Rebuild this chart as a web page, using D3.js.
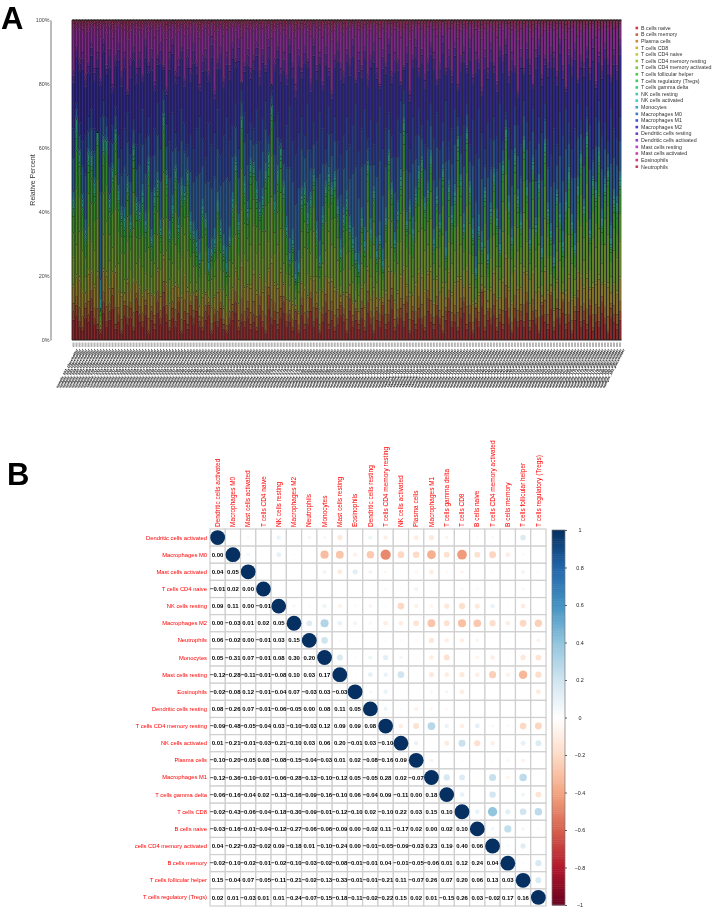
<!DOCTYPE html>
<html>
<head>
<meta charset="utf-8">
<script src="https://cdn.jsdelivr.net/npm/d3@7"></script>
<style>
  html, body { margin: 0; padding: 0; background: #fff; }
  svg { display: block; font-family: "Liberation Sans", Arial, sans-serif; }
  .soft { filter: blur(0.4px); }
</style>
</head>
<body>
<svg id="chart" width="712" height="911"></svg>
<script>
const cellTypes = ["B cells naive", "B cells memory", "Plasma cells", "T cells CD8", "T cells CD4 naive",
  "T cells CD4 memory resting", "T cells CD4 memory activated", "T cells follicular helper",
  "T cells regulatory (Tregs)", "T cells gamma delta", "NK cells resting", "NK cells activated", "Monocytes",
  "Macrophages M0", "Macrophages M1", "Macrophages M2", "Dendritic cells resting", "Dendritic cells activated",
  "Mast cells resting", "Mast cells activated", "Eosinophils", "Neutrophils"];
const cellColors = ["#CC3D3D", "#CC643D", "#CC8B3D", "#CCB23D", "#BFCC3D", "#98CC3D", "#71CC3D", "#4ACC3D",
  "#3DCC57", "#3DCC7E", "#3DCCA5", "#3DCCCC", "#3DA5CC", "#3D7ECC", "#3D57CC", "#4A3DCC", "#713DCC", "#983DCC",
  "#BF3DCC", "#CC3DB2", "#CC3D8B", "#CC3D64"];

// cumulative percent where each colour band ends, one value per sample
const redTop = [9,11,6,4,10,8,13,7,5,3, 12,6,9,14,5,8,3,11,7,10, 4,13,8,6,11,3,9,5,12,7,
  15,8,4,10,6,12,3,9,5,11, 7,13,6,4,9,11,3,8,6,10, 5,3,7,9,12,4,8,6,10,5,
  8,4,11,6,3,14,7,9,5,10, 12,6,8,4,9,3,11,5,7,13, 6,10,3,8,12,5,9,4,7,11,
  8,3,13,6,9,5,10,4,12,7, 3,9,6,11,5,8,14,4,7,10, 6,12,3,9,5,10,7,4,13,8,
  5,11,7,3,9,13,6,8,4,10, 12,5,8,3,10,6,15,4,9,7, 11,4,8,5,13,7,3,10,6,9,
  6,12,4,9,7,3,11,8,5,14, 4,10,7,12,5,8,3,9,13,6, 9,5,11,4,8,6,12,7,3,10, 8,5,9];
const oliveTop = [26,30,34,28,20,36,31,28,38,6, 33,37,25,29,41,24,27,19,31,22, 35,24,26,23,21,29,20,24,33,22,
  38,28,19,24,30,22,26,33,28,18, 23,18,16,25,21,16,19,20,26,22, 16,14,20,24,33,19,41,27,25,30,
  36,27,30,26,34,31,45,27,30,35, 24,21,17,20,13,15,26,29,21,27, 34,20,16,24,28,34,30,29,25,17,
  22,27,22,18,16,14,24,18,34,20, 30,18,21,16,26,38,29,21,24,31, 41,23,27,20,31,34,35,28,30,38,
  19,29,23,33,18,31,24,28,36,30, 22,42,27,21,13,24,20,29,16,26, 33,23,19,34,41,26,21,36,28,24,
  40,31,19,35,23,30,17,38,26,21, 16,28,25,18,26,33,24,19,31,36, 25,37,22,32,29,35,24,30,33,20, 28,26,31];
const greenTop = [43,69,58,43,33,58,57,48,65,10, 62,62,43,53,65,46,39,37,48,36, 60,42,39,45,36,55,31,45,49,34,
  70,51,33,41,53,35,47,45,52,36, 33,29,25,41,37,22,27,30,42,34, 28,22,31,43,55,36,69,48,40,55,
  54,46,40,44,52,58,73,42,52,60, 48,34,25,30,19,22,44,47,38,44, 51,33,24,38,48,51,47,50,41,27,
  38,43,35,30,25,22,37,29,55,33, 46,26,31,23,37,58,47,30,39,50, 68,36,41,33,45,52,56,42,46,57,
  30,44,36,53,27,48,38,45,63,50, 35,65,48,33,21,34,29,46,25,40, 51,37,28,55,66,42,31,58,44,36,
  62,47,30,55,35,49,27,61,40,33, 24,45,38,29,42,52,36,28,47,57, 41,64,33,50,46,58,37,48,53,30, 44,42,50];
const blueTop = [66,74,68,62,64,70,72,66,63,70, 75,70,62,67,73,64,60,66,71,58, 69,61,65,72,63,70,57,66,74,60,
  78,67,62,71,65,59,72,68,61,64, 60,66,70,63,57,68,61,65,72,58, 64,70,62,67,74,60,78,71,65,68,
  66,72,62,69,75,64,78,68,71,63, 60,67,73,62,58,65,70,64,74,60, 68,62,71,66,60,73,65,70,62,58,
  64,70,61,67,74,59,66,72,63,69, 61,68,73,60,66,71,64,57,69,75, 78,65,60,70,64,72,67,61,69,74,
  63,71,60,68,75,62,66,72,70,64, 67,74,61,69,58,72,65,60,68,63, 70,64,74,62,71,66,60,73,67,61,
  75,68,62,72,60,70,65,74,63,58, 66,61,71,64,72,68,60,66,74,69, 63,73,67,60,70,75,64,68,62,72, 66,63,70];
const indigoTop = [84,92,88,90,83,87,93,85,90,82, 94,86,91,80,89,93,84,90,78,88, 92,85,90,83,94,87,91,81,89,93,
  86,79,90,94,84,88,92,82,91,85, 93,87,80,89,91,84,95,78,88,92, 82,90,86,93,88,94,81,87,91,85,
  89,93,84,91,86,94,80,88,92,85, 90,83,94,87,80,91,85,92,88,82, 94,86,90,81,92,85,78,89,93,87,
  84,91,88,94,82,90,86,92,83,89, 93,85,80,91,87,94,84,90,88,81, 86,92,78,89,94,85,91,83,88,93,
  90,82,87,95,85,91,84,93,80,89, 92,86,94,83,90,88,79,91,85,93, 87,81,92,89,94,84,90,86,78,91,
  85,93,88,80,91,94,83,89,87,92, 90,84,94,86,79,91,88,93,82,89, 87,92,85,94,81,90,86,93,88,83, 91,86,94];
// how each band divides between its cell types, estimated
const bandShares = [[0.7, 0.3], [0.15, 0.3, 0.05, 0.5], [0.45, 0.3, 0.1, 0.05, 0.1],
  [0.05, 0.1, 0.45, 0.4], [0.8, 0.12, 0.08], [0.72, 0.12, 0.1, 0.06]];
const percentTicks = [0, 20, 40, 60, 80, 100];

const corrLabels = ["Dendritic cells activated", "Macrophages M0", "Mast cells activated", "T cells CD4 naive",
  "NK cells resting", "Macrophages M2", "Neutrophils", "Monocytes", "Mast cells resting", "Eosinophils",
  "Dendritic cells resting", "T cells CD4 memory resting", "NK cells activated", "Plasma cells", "Macrophages M1",
  "T cells gamma delta", "T cells CD8", "B cells naive", "T cells CD4 memory activated", "B cells memory",
  "T cells follicular helper", "T cells regulatory (Tregs)"];
const rowLabels = corrLabels.map(d => d === "T cells CD4 memory activated" ? "cells CD4 memory activated" : d);
// lower triangle of the correlation matrix, diagonal left out
const corrLower = [
  [0.00],
  [0.04, 0.05],
  [-0.01, 0.02, 0.00],
  [0.09, 0.11, 0.00, -0.01],
  [0.00, -0.03, 0.01, 0.02, 0.05],
  [0.06, -0.02, 0.00, -0.01, 0.03, 0.15],
  [0.05, -0.31, 0.07, -0.01, 0.08, 0.30, 0.20],
  [-0.12, -0.28, -0.11, -0.01, -0.08, 0.10, 0.03, 0.17],
  [-0.02, -0.08, 0.12, -0.01, -0.04, 0.07, -0.03, 0.03, -0.03],
  [0.08, -0.26, 0.07, -0.01, -0.06, -0.05, 0.00, 0.08, 0.11, 0.05],
  [-0.09, -0.48, -0.05, -0.04, 0.03, -0.10, -0.03, 0.12, 0.09, 0.09, 0.08],
  [0.01, -0.21, -0.01, -0.03, -0.21, -0.10, 0.03, 0.06, 0.20, -0.01, 0.03, -0.10],
  [-0.10, -0.20, -0.05, 0.08, -0.08, -0.15, -0.04, -0.03, 0.01, 0.02, -0.08, -0.16, 0.09],
  [-0.12, -0.36, -0.10, -0.01, -0.06, -0.28, -0.13, -0.10, -0.12, 0.05, -0.05, 0.28, 0.02, -0.07],
  [-0.06, -0.16, -0.04, 0.02, -0.13, -0.16, -0.09, -0.16, -0.10, 0.06, -0.04, 0.09, -0.11, 0.00, 0.18],
  [-0.02, -0.43, -0.06, -0.04, -0.18, -0.30, -0.09, -0.01, -0.12, -0.10, 0.02, -0.10, 0.22, 0.03, 0.15, 0.10],
  [-0.03, -0.16, -0.01, -0.04, -0.12, -0.27, -0.06, -0.06, -0.09, 0.00, -0.02, 0.11, -0.17, 0.02, 0.00, 0.02, 0.10],
  [0.04, -0.22, -0.03, -0.02, 0.09, -0.18, 0.01, -0.10, -0.24, 0.00, -0.01, -0.05, -0.09, -0.03, 0.23, 0.19, 0.40, 0.06],
  [-0.02, -0.10, -0.02, -0.01, -0.02, -0.10, -0.03, -0.02, -0.08, -0.01, -0.01, 0.04, -0.01, -0.05, -0.06, 0.01, 0.12, 0.24, 0.04],
  [0.15, -0.04, 0.07, -0.05, -0.11, -0.21, -0.02, -0.13, -0.33, -0.01, -0.01, -0.21, 0.11, -0.07, 0.26, 0.07, 0.20, 0.06, 0.13, 0.03],
  [0.02, 0.01, -0.03, 0.01, 0.01, -0.24, -0.07, -0.15, -0.18, -0.11, -0.02, -0.22, 0.15, 0.02, 0.01, -0.15, 0.26, 0.03, -0.02, 0.17, 0.16]
];
const rdBu = ["#67001F", "#B2182B", "#D6604D", "#F4A582", "#FDDBC7", "#FFFFFF", "#D1E5F0", "#92C5DE", "#4393C3", "#2166AC", "#053061"];
const colorbarTicks = [-1, -0.8, -0.6, -0.4, -0.2, 0, 0.2, 0.4, 0.6, 0.8, 1];

const svg = d3.select("#chart");
const root = svg.append("g").attr("class", "soft");

// ==================== Panel letters =====================
root.append("text").attr("x", 1).attr("y", 29).attr("font-size", 31).attr("font-weight", "bold").text("A");
root.append("text").attr("x", 7).attr("y", 485).attr("font-size", 31).attr("font-weight", "bold").text("B");

// ==================== Panel A, stacked bars =====================
function buildRows() {
  const tops = [redTop, oliveTop, greenTop, blueTop, indigoTop];
  return redTop.map((_, i) => {
    const row = {sample: i};
    let typeIndex = 0;
    let below = 0;
    bandShares.forEach((shares, b) => {
      const top = b < tops.length ? tops[b][i] : 100;
      const height = Math.max(0, top - below);
      below = Math.max(below, top);
      shares.forEach(s => {
        row[cellTypes[typeIndex]] = height * s;
        typeIndex++;
      });
    });
    return row;
  });
}

const rows = buildRows();
// the sample names are too small to read in the reference, these only stand in for them
const sampleLabels = rows.map(d => "sample_" + String(d.sample + 1).padStart(3, "0") + "_placeholder");

const x = d3.scaleBand().domain(sampleLabels).range([72, 621.5]);
const y = d3.scaleLinear().domain([0, 100]).range([340, 20]);
const stacked = d3.stack().keys(cellTypes)(rows);

const barLayer = root.append("g");
const series = barLayer.selectAll("g")
  .data(stacked)
  .enter()
  .append("g");

series.selectAll("rect")
  .data((d, k) => d.map(v => ({v: v, k: k})))
  .enter()
  .append("rect")
  .attr("x", (d, i) => x(sampleLabels[i]))
  .attr("y", d => y(d.v[1]))
  .attr("width", x.bandwidth())
  .attr("height", d => y(d.v[0]) - y(d.v[1]))
  .attr("fill", d => d3.color(cellColors[d.k]).darker(1.2));

// the segment borders only survive as small specks at this size
series.selectAll("rect.speck")
  .data((d, k) => d.map(v => ({v: v, k: k})))
  .enter()
  .append("rect")
  .attr("class", "speck")
  .attr("x", (d, i) => x(sampleLabels[i]) + x.bandwidth() / 2 - 0.7)
  .attr("y", d => y(d.v[1]) - 0.4)
  .attr("width", 1.4)
  .attr("height", 0.8)
  .attr("fill", "#000");

barLayer.selectAll("line.bar-edge")
  .data(sampleLabels)
  .enter()
  .append("line")
  .attr("class", "bar-edge")
  .attr("x1", d => x(d))
  .attr("x2", d => x(d))
  .attr("y1", y(0))
  .attr("y2", y(100))
  .attr("stroke", "#0a0a14")
  .attr("stroke-width", 0.9)
  .attr("stroke-opacity", 0.85);

barLayer.append("line")
  .attr("x1", 72).attr("x2", 621.5).attr("y1", y(100)).attr("y2", y(100))
  .attr("stroke", "#222").attr("stroke-width", 1);
barLayer.append("line")
  .attr("x1", 72).attr("x2", 621.5).attr("y1", y(0)).attr("y2", y(0))
  .attr("stroke", "#222").attr("stroke-width", 1);

const yAxis = root.append("g")
  .attr("transform", "translate(50.5,0)")
  .call(d3.axisRight(y).tickValues(percentTicks).tickSize(0).tickFormat(d => d + "%"));
yAxis.select(".domain").attr("stroke", "#777");
yAxis.selectAll("text").attr("x", -1).attr("text-anchor", "end").attr("font-size", 5.4).attr("fill", "#444");

root.append("text")
  .attr("transform", "translate(35,180) rotate(-90)")
  .attr("text-anchor", "middle")
  .attr("font-size", 7)
  .attr("fill", "#333")
  .text("Relative Percent");

const xAxis = root.append("g")
  .attr("transform", "translate(0,342.5)")
  .call(d3.axisBottom(x).tickSize(4.5).tickPadding(0));
xAxis.select(".domain").remove();
xAxis.selectAll("line").attr("stroke", "#b5b5b5").attr("stroke-width", 2);
xAxis.selectAll("text")
  .attr("transform", "translate(0,4.5) rotate(-62)")
  .attr("text-anchor", "end")
  .attr("dy", "0.3em")
  .attr("font-size", 3.7)
  .attr("font-weight", "bold")
  .attr("fill", "#000");

const legend = root.append("g");
const legendY = d3.scalePoint().domain(cellTypes).range([28, 166.7]);
legend.selectAll("rect")
  .data(cellTypes)
  .enter()
  .append("rect")
  .attr("x", 635.5)
  .attr("y", d => legendY(d) - 1.3)
  .attr("width", 2.6)
  .attr("height", 2.6)
  .attr("fill", (d, i) => cellColors[i]);
legend.selectAll("text")
  .data(cellTypes)
  .enter()
  .append("text")
  .attr("x", 641)
  .attr("y", d => legendY(d) + 1.8)
  .attr("font-size", 5.3)
  .attr("fill", "#333")
  .text(d => d);

// ==================== Panel B, correlation matrix =====================
const cols = d3.scaleBand().domain(corrLabels).range([210, 546]);
const rowsY = d3.scaleBand().domain(corrLabels).range([529, 906]);
const corrColor = d3.scaleLinear().domain(d3.range(-1, 1.01, 0.2)).range(rdBu);
const maxRadius = 7.4;

function corrValue(r, c) {
  if (r === c) return 1;
  return r > c ? corrLower[r - 1][c] : corrLower[c - 1][r];
}

const cells = [];
corrLabels.forEach((rowName, r) => {
  corrLabels.forEach((colName, c) => {
    cells.push({r: r, c: c, rowName: rowName, colName: colName, value: corrValue(r, c)});
  });
});

const matrix = root.append("g");
matrix.selectAll("rect")
  .data(cells)
  .enter()
  .append("rect")
  .attr("x", d => cols(d.colName))
  .attr("y", d => rowsY(d.rowName))
  .attr("width", cols.bandwidth())
  .attr("height", rowsY.bandwidth())
  .attr("fill", "#fff")
  .attr("stroke", "#cfcfcf")
  .attr("stroke-width", 1.2);

// upper triangle and diagonal are circles
matrix.selectAll("circle")
  .data(cells.filter(d => d.c >= d.r))
  .enter()
  .append("circle")
  .attr("cx", d => cols(d.colName) + cols.bandwidth() / 2)
  .attr("cy", d => rowsY(d.rowName) + rowsY.bandwidth() / 2)
  .attr("r", d => maxRadius * Math.sqrt(Math.abs(d.value)))
  .attr("fill", d => corrColor(d.value));

// lower triangle gets the numbers
matrix.selectAll("text.value")
  .data(cells.filter(d => d.c < d.r))
  .enter()
  .append("text")
  .attr("class", "value")
  .attr("x", d => cols(d.colName) + cols.bandwidth() / 2)
  .attr("y", d => rowsY(d.rowName) + rowsY.bandwidth() / 2 + 2.1)
  .attr("text-anchor", "middle")
  .attr("font-size", 6)
  .attr("font-weight", "bold")
  .text(d => d3.format(".2f")(d.value));

root.selectAll("text.row-label")
  .data(corrLabels)
  .enter()
  .append("text")
  .attr("class", "row-label")
  .attr("x", 207)
  .attr("y", d => rowsY(d) + rowsY.bandwidth() / 2 + 2)
  .attr("text-anchor", "end")
  .attr("font-size", 5.8)
  .attr("fill", "#f00")
  .text((d, i) => rowLabels[i]);

root.selectAll("text.col-label")
  .data(corrLabels)
  .enter()
  .append("text")
  .attr("class", "col-label")
  .attr("transform", d => "translate(" + (cols(d) + cols.bandwidth() / 2 + 2.2) + ",527) rotate(-90)")
  .attr("font-size", 6.5)
  .attr("fill", "#f00")
  .text(d => d);

// ==================== Colour bar =====================
const barScale = d3.scaleLinear().domain([-1, 1]).range([905, 530]);
const barSteps = d3.range(-1, 1, 0.01);
const colorbar = root.append("g");
colorbar.selectAll("rect")
  .data(barSteps)
  .enter()
  .append("rect")
  .attr("x", 552)
  .attr("y", d => barScale(d + 0.01))
  .attr("width", 13)
  .attr("height", d => barScale(d) - barScale(d + 0.01) + 0.5)
  .attr("fill", d => corrColor(d + 0.005));
root.append("rect")
  .attr("x", 552).attr("y", 530).attr("width", 13).attr("height", 375)
  .attr("fill", "none").attr("stroke", "#777").attr("stroke-width", 0.7);

const barAxis = root.append("g")
  .attr("transform", "translate(565,0)")
  .call(d3.axisRight(barScale).tickValues(colorbarTicks).tickSize(2).tickFormat(d3.format("")));
barAxis.select(".domain").remove();
barAxis.selectAll("line").attr("stroke", "#222").attr("stroke-width", 0.7);
barAxis.selectAll("text").attr("x", 15).attr("text-anchor", "middle").attr("font-size", 5.4).attr("fill", "#222");
</script>
</body>
</html>
